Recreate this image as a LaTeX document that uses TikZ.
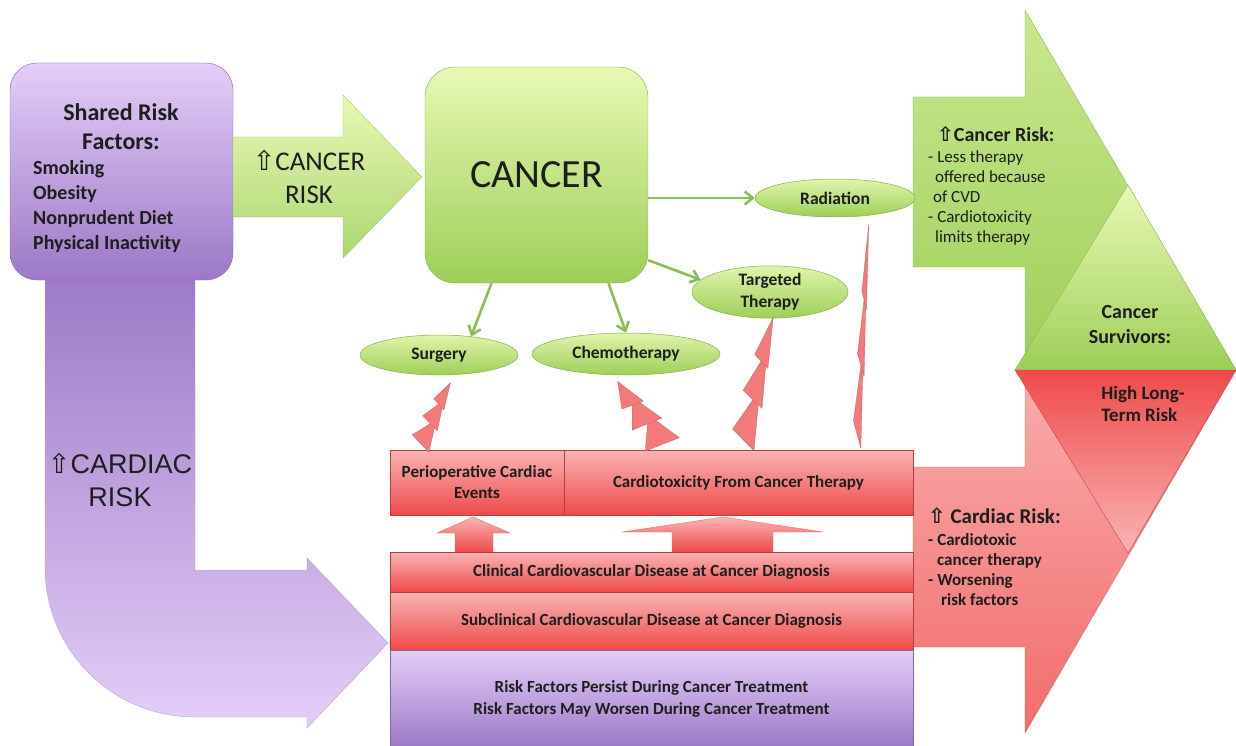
\documentclass[tikz,border=0pt]{standalone}
\usepackage{fontspec}
\setmainfont{Carlito}
\newfontfamily\arialfont{Liberation Sans}
\newfontfamily\symfont{DejaVu Sans}
\usetikzlibrary{shapes.geometric,arrows.meta}

\definecolor{purpleLight}{HTML}{E4CEF8}
\definecolor{purpleDark}{HTML}{9C78C6}
\definecolor{greenLight}{HTML}{E8F8B4}
\definecolor{greenDark}{HTML}{9DCF58}
\definecolor{redLight}{HTML}{FAB4B4}
\definecolor{redDark}{HTML}{EE4A4A}
\definecolor{pinkLight}{HTML}{F9ADAD}
\definecolor{pinkDark}{HTML}{F26C6C}
\definecolor{lineGreen}{HTML}{8CBE56}
\definecolor{boltRed}{HTML}{F27A7A}
\definecolor{inkText}{HTML}{1E1E1E}

\newcommand{\upout}{{\symfont ⇧}}

\tikzset{
  purplebox/.style={top color=purpleLight, bottom color=purpleDark, draw=purpleDark!85!black, line width=0.4pt},
  purpleflow/.style={top color=purpleDark, bottom color=purpleLight, draw=purpleDark!70, line width=0.4pt},
  greenbox/.style={top color=greenLight, bottom color=greenDark, draw=greenDark!85!black, line width=0.4pt},
  greenflow/.style={top color=greenLight, bottom color=greenDark!85, draw=greenDark, line width=0.4pt},
  biggreen/.style={top color=greenLight!60!greenDark, bottom color=greenDark, draw=greenDark!90!black, line width=0.4pt},
  bigred/.style={top color=pinkLight, bottom color=pinkDark, draw=pinkDark!90!black, line width=0.4pt},
  greentri/.style={top color=greenLight, bottom color=greenDark, draw=greenDark!90!black, line width=0.4pt},
  redtri/.style={top color=redDark, bottom color=redLight, draw=redDark!90!black, line width=0.4pt},
  redbox/.style={top color=redLight, bottom color=redDark, draw=redDark!80!black, line width=0.4pt, font=\bfseries\fontsize{17}{21}\selectfont},
  redup/.style={top color=redLight, bottom color=redDark, draw=redDark!80, line width=0.4pt},
  pill/.style={ellipse, top color=greenLight!90!greenDark, bottom color=greenDark, draw=greenDark!85!black, line width=0.5pt, font=\bfseries\fontsize{17.5}{22}\selectfont},
  flow/.style={draw=lineGreen, line width=2.6pt, -{Straight Barb[length=8pt,width=13pt]}},
  bolt/.style={fill=boltRed, draw=boltRed!80!black, line width=0.3pt},
}

% lightning bolt: base x, base y, angle, width, length
\newcommand{\zapbolt}[5]{%
  \begin{scope}[shift={(#1,#2)}, rotate=#3, x=#4pt, y=#5pt]
    \path[bolt] (-0.45,0.12) -- (0.35,0) -- (0.1,0.45) -- cycle;
    \path[bolt] (-0.4,0.42) -- (0.3,0.32) -- (0.05,0.74) -- cycle;
    \path[bolt] (-0.3,0.7) -- (0.2,0.62) -- (0,1) -- cycle;
  \end{scope}}

\begin{document}
\begin{tikzpicture}[x=1pt, y=-1pt, inner sep=0pt, text=inkText]
\useasboundingbox (0,0) rectangle (1236,746);

% cardiac risk arrow
\path[purpleflow] (45,270) -- (45,567) .. controls (45,650) and (112,717) .. (195,717)
  -- (307,717) -- (307,728) -- (388,643) -- (307,558) -- (307,570) -- (195,570) -- (195,270) -- cycle;
\node[purplebox, rounded corners=27pt, minimum width=223pt, minimum height=217pt] (shared) at (121.5,171.5) {};

% cancer risk arrow
\path[greenflow] (233,137) -- (343,137) -- (343,95) -- (422,177) -- (343,258) -- (343,217) -- (233,217) -- cycle;
\node[greenbox, rounded corners=30pt, minimum width=223pt, minimum height=216pt, font=\fontsize{40}{44}\selectfont] (cancer) at (536.5,175) {CANCER};

% survivors
\path[biggreen] (913,97) -- (1025,97) -- (1025,10) -- (1236,370) -- (1025,370) -- (1025,267) -- (913,267) -- cycle;
\path[bigred] (913,467) -- (1025,467) -- (1025,370) -- (1236,370) -- (1025,733) -- (1025,647) -- (913,647) -- cycle;
\path[greentri] (1015,370) -- (1128,185) -- (1236,370) -- cycle;
\path[redtri] (1015,370) -- (1236,370) -- (1128,553) -- cycle;

% stacked boxes
\node[redbox, minimum width=174pt, minimum height=65pt, align=center] (periop) at (477,482.5) {Perioperative Cardiac\\Events};
\node[redbox, minimum width=349pt, minimum height=65pt] (cardiotox) at (738.5,482.5) {Cardiotoxicity From Cancer Therapy};
\path[redup] (455,552) -- (455,533) -- (437,533) -- (473,517) -- (510,533) -- (493,533) -- (493,552) -- cycle;
\path[redup] (672,552) -- (672,532) -- (622,532) -- (723,517) -- (823,532) -- (773,532) -- (773,552) -- cycle;
\node[redbox, minimum width=523pt, minimum height=40pt] (clinical) at (651.5,572) {Clinical Cardiovascular Disease at Cancer Diagnosis};
\node[redbox, minimum width=523pt, minimum height=58pt] (subclinical) at (651.5,621) {Subclinical Cardiovascular Disease at Cancer Diagnosis};
\node[purplebox, minimum width=523pt, minimum height=98pt, align=center, font=\bfseries\fontsize{17}{22}\selectfont] (persist) at (651.5,699) {Risk Factors Persist During Cancer Treatment\\Risk Factors May Worsen During Cancer Treatment};

% therapies
\node[pill, minimum width=160pt, minimum height=38pt] (radiation) at (835,198) {Radiation};
\node[pill, minimum width=156pt, minimum height=44pt, align=center] (targeted) at (770,292) {Targeted\\Therapy};
\node[pill, minimum width=158pt, minimum height=40pt] (surgery) at (439,355) {Surgery};
\node[pill, minimum width=188pt, minimum height=42pt] (chemo) at (626,354) {Chemotherapy};

\draw[flow] (cancer.east |- radiation.west) -- (radiation.west);
\draw[flow] ([yshift=23pt]cancer.south east) -- (targeted.170);
\draw[flow] ([xshift=-45pt]cancer.south) -- (surgery.30);
\draw[flow] ([xshift=72pt]cancer.south) -- (chemo.north);

\zapbolt{420}{448}{-25}{28}{72}
\zapbolt{667}{447}{37}{44}{82}
\zapbolt{743}{448}{-13}{32}{134}
\zapbolt{857}{448}{-3}{11}{224}

% texts
\node[font=\bfseries\fontsize{24}{29}\selectfont, align=center] (sharedhead) at (121,127) {Shared Risk\\Factors:};
\node[anchor=west, font=\bfseries\fontsize{20}{25}\selectfont, align=left] (sharedlist) at (33,207) {Smoking\\Obesity\\Nonprudent Diet\\Physical Inactivity};
\node[font=\fontsize{27}{33}\selectfont, align=center] (cancerrisk) at (309,177) {\upout CANCER\\RISK};
\node[font=\arialfont\fontsize{27}{33}\selectfont, align=center] (cardiacrisk) at (120,480) {\upout CARDIAC\\RISK};
\node[anchor=north west, font=\bfseries\fontsize{20}{24}\selectfont] (cancerhead) at (937,126) {\upout Cancer Risk:};
\node[anchor=north west, font=\fontsize{17}{20}\selectfont, align=left] (cancerlist) at (928,150) {- Less therapy\\\hspace*{7pt}offered because\\\hspace*{5pt}of CVD\\- Cardiotoxicity\\\hspace*{7pt}limits therapy};
\node[font=\bfseries\fontsize{20}{25}\selectfont, align=center] (survivors) at (1130,325) {Cancer\\Survivors:};
\node[font=\bfseries\fontsize{19}{22}\selectfont, align=left] (longterm) at (1143,404) {High Long-\\Term Risk};
\node[anchor=north west, font=\bfseries\fontsize{21}{24}\selectfont] (cardiachead) at (928,507) {\upout\ Cardiac Risk:};
\node[anchor=north west, font=\bfseries\fontsize{17}{20}\selectfont, align=left] (cardiaclist) at (928,533) {- Cardiotoxic\\\hspace*{9pt}cancer therapy\\- Worsening\\\hspace*{13pt}risk factors};
\end{tikzpicture}
\end{document}
